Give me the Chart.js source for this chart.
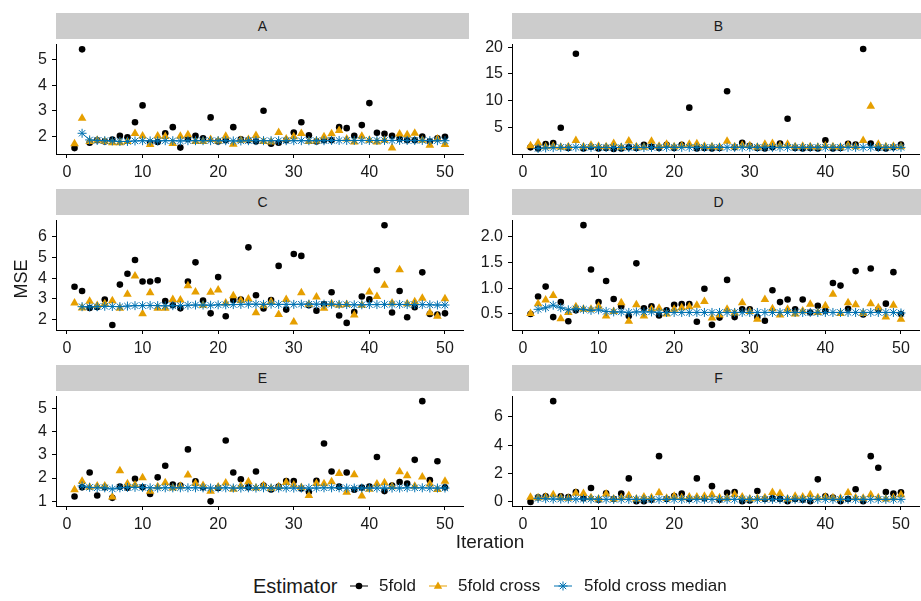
<!DOCTYPE html>
<html>
<head>
<meta charset="utf-8">
<script src="https://cdn.jsdelivr.net/npm/chart.js@4.4.1/dist/chart.umd.min.js"></script>
<style>
    body { margin: 0; width: 921px; height: 601px; overflow: hidden; background: #fff; position: relative;
           font-family: "Liberation Sans", Arial, sans-serif; color: #1a1a1a; }
    canvas { position: absolute; }
    .strip { position: absolute; height: 26px; background: #cccccc; font-size: 14px; line-height: 26px; text-align: center; }
    .title { position: absolute; white-space: nowrap; }
    .key { position: absolute; }
</style>
</head>
<body>
<div id="figure"></div>
<div class="title" style="left:0; top:0; width:42px; height:18px; font-size:18px; line-height:18px; text-align:center;
     transform: translate(0px, 270px) rotate(-90deg);">MSE</div>
<div class="title" style="left:390px; top:530px; width:200px; text-align:center; font-size:19px; line-height:24px;">Iteration</div>

<div class="title" style="left:253px; top:573px; font-size:20px; line-height:26px;">Estimator</div>
<svg class="key" style="left:350px; top:577px;" width="18" height="18">
    <line x1="0" y1="9" x2="18" y2="9" stroke="#000" stroke-width="1"/>
    <circle cx="9" cy="9" r="3.3" fill="#000"/>
</svg>
<div class="title" style="left:379px; top:574px; font-size:17px; line-height:24px;">5fold</div>
<svg class="key" style="left:429px; top:577px;" width="18" height="18">
    <line x1="0" y1="9" x2="18" y2="9" stroke="#E69F00" stroke-width="1"/>
    <polygon points="9,4.5 13.2,11.8 4.8,11.8" fill="#E69F00"/>
</svg>
<div class="title" style="left:458px; top:574px; font-size:17px; line-height:24px;">5fold cross</div>
<svg class="key" style="left:554px; top:577px;" width="18" height="18">
    <line x1="0" y1="9" x2="18" y2="9" stroke="#0072B2" stroke-width="1"/>
    <g stroke="#0072B2" stroke-width="1">
        <line x1="9" y1="4.5" x2="9" y2="13.5"/><line x1="4.5" y1="9" x2="13.5" y2="9"/>
        <line x1="5.8" y1="5.8" x2="12.2" y2="12.2"/><line x1="5.8" y1="12.2" x2="12.2" y2="5.8"/>
    </g>
</svg>
<div class="title" style="left:584px; top:574px; font-size:17px; line-height:24px;">5fold cross median</div>

<script>
const iterations = [1,2,3,4,5,6,7,8,9,10,11,12,13,14,15,16,17,18,19,20,21,22,23,24,25,
                    26,27,28,29,30,31,32,33,34,35,36,37,38,39,40,41,42,43,44,45,46,47,48,49,50];
const xTicks = [0, 10, 20, 30, 40, 50];

// panel A
const foldA = [1.54,5.4,1.75,1.85,1.8,1.87,2.02,1.96,2.55,3.21, 1.75,1.78,2.12,2.36,1.56,1.9,2.02,1.92,2.74,1.8,
               1.85,2.36,1.88,1.85,1.8,3.0,1.71,1.75,1.85,2.15, 2.55,2.04,1.8,1.85,1.85,2.36,2.32,2.02,2.44,3.3,
               2.14,2.1,2.02,1.9,1.85,1.85,1.99,1.8,1.92,1.98];
const crossA = [1.71,2.71,1.8,1.85,1.8,1.75,1.75,1.8,2.11,2.01, 1.68,2.01,1.99,1.72,2.0,2.06,1.8,1.8,1.88,1.82,
                2.0,1.69,1.85,1.88,2.03,1.8,1.78,2.15,1.9,1.98, 2.11,1.8,1.82,1.98,2.1,2.23,1.9,1.78,2.0,1.85,
                1.78,1.85,1.54,2.09,2.06,2.12,1.85,1.65,1.9,1.68];
const medianA = [null,2.12,1.86,1.84,1.83,1.82,1.8,1.8,1.82,1.83, 1.82,1.82,1.83,1.83,1.82,1.83,1.83,1.83,1.83,1.83,
                 1.83,1.82,1.82,1.83,1.83,1.83,1.83,1.83,1.83,1.83, 1.83,1.83,1.83,1.83,1.84,1.84,1.84,1.84,1.84,1.84,
                 1.84,1.84,1.84,1.84,1.84,1.84,1.84,1.83,1.83,1.83];
const yTicksA = [2, 3, 4, 5];

// panel B
const foldB = [1.2,1.0,1.8,1.99,4.9,1.1,18.8,1.0,1.3,1.0, 1.1,0.9,1.0,1.2,1.1,1.7,1.3,1.1,1.7,1.1,
               1.7,8.67,1.0,1.1,1.0,1.1,11.75,1.2,2.05,1.5, 1.1,1.0,1.2,1.93,6.57,1.1,1.0,1.1,1.0,2.53,
               1.0,1.1,1.87,1.75,19.7,1.93,1.1,1.0,1.2,1.75];
const crossB = [1.5,2.0,1.3,1.4,1.2,1.3,2.47,1.3,1.6,1.4, 1.3,1.93,1.2,2.4,1.3,1.2,2.35,1.4,1.8,1.3,
                1.5,1.8,1.87,1.4,1.3,1.2,2.35,1.3,1.6,1.5, 1.2,1.8,1.93,1.5,1.8,1.3,1.4,1.3,1.2,1.5,
                1.3,1.2,1.6,1.3,2.47,8.92,1.8,1.3,1.4,1.3];
const medianB = [null,1.0,1.1,1.15,1.2,1.18,1.22,1.2,1.2,1.2, 1.18,1.18,1.17,1.18,1.18,1.18,1.2,1.2,1.2,1.2,
                 1.2,1.2,1.2,1.2,1.2,1.2,1.2,1.2,1.22,1.22, 1.2,1.2,1.2,1.2,1.2,1.2,1.2,1.2,1.2,1.2,
                 1.2,1.2,1.2,1.2,1.2,1.22,1.2,1.2,1.2,1.2];
const yTicksB = [5, 10, 15, 20];

// panel C
const foldC = [3.59,3.38,2.57,2.61,2.97,1.75,3.69,4.21,4.87,3.84, 3.84,3.9,2.9,2.7,2.55,3.84,4.76,2.92,2.31,4.05,
               2.17,2.95,2.97,5.48,3.18,2.54,2.95,4.59,2.49,5.16, 5.07,2.7,2.44,2.74,3.32,2.21,1.85,2.37,3.12,2.98,
               4.38,6.54,2.35,3.38,2.12,2.6,4.28,2.28,2.25,2.31];
const crossC = [2.81,2.57,2.89,2.69,2.77,2.92,2.55,3.23,4.1,2.29, 3.3,2.55,2.55,2.97,2.95,3.64,3.33,2.7,3.32,3.43,
                2.81,3.15,2.93,3.0,2.34,2.67,2.87,2.26,2.97,1.89, 3.3,2.74,3.09,2.55,2.77,2.7,2.74,2.23,2.7,3.33,
                3.12,3.66,2.81,4.41,2.77,2.87,3.03,2.34,2.17,3.01];
const medianC = [null,2.63,2.62,2.63,2.65,2.64,2.63,2.66,2.68,2.68, 2.69,2.68,2.67,2.68,2.68,2.7,2.71,2.71,2.7,2.72,
                 2.72,2.73,2.74,2.75,2.75,2.74,2.75,2.74,2.74,2.74, 2.75,2.75,2.75,2.75,2.75,2.74,2.73,2.72,2.72,2.73,
                 2.73,2.74,2.74,2.74,2.73,2.73,2.73,2.72,2.71,2.71];
const yTicksC = [2, 3, 4, 5, 6];

// panel D
const foldD = [0.5,0.84,1.03,0.44,0.73,0.36,0.57,2.22,1.36,0.73, 1.14,0.79,0.65,0.46,1.48,0.61,0.65,0.47,0.57,0.68,
               0.69,0.69,0.35,0.99,0.29,0.43,1.16,0.44,0.59,0.59, 0.44,0.37,0.96,0.73,0.78,0.59,0.78,0.53,0.66,0.56,
               1.1,1.05,0.6,1.33,0.49,1.38,0.59,0.7,1.31,0.5];
const crossD = [0.51,0.7,0.77,0.86,0.41,0.53,0.64,0.59,0.59,0.65, 0.46,0.55,0.72,0.36,0.68,0.46,0.59,0.61,0.5,0.59,
                0.62,0.64,0.67,0.74,0.42,0.48,0.59,0.52,0.72,0.55, 0.4,0.78,0.6,0.48,0.59,0.5,0.56,0.69,0.53,0.66,
                0.88,0.51,0.72,0.68,0.51,0.7,0.62,0.44,0.67,0.4];
const medianD = [null,0.59,0.62,0.67,0.62,0.58,0.6,0.59,0.57,0.58, 0.55,0.54,0.54,0.53,0.54,0.54,0.54,0.53,0.53,0.53,
                 0.53,0.53,0.53,0.53,0.53,0.53,0.53,0.53,0.53,0.53, 0.53,0.53,0.53,0.53,0.53,0.53,0.53,0.53,0.53,0.53,
                 0.53,0.53,0.53,0.53,0.53,0.53,0.53,0.53,0.53,0.52];
const yTicksD = [0.5, 1.0, 1.5, 2.0];

// panel E
const foldE = [1.21,1.6,2.24,1.25,1.6,1.15,1.63,1.58,1.97,1.6, 1.32,2.03,2.53,1.72,1.68,3.23,1.86,1.6,1.0,1.57,
               3.61,2.24,1.95,1.61,2.28,1.68,1.51,1.63,1.87,1.87, 1.55,1.41,1.88,3.48,2.28,1.63,2.24,1.5,1.59,1.63,
               2.9,1.44,1.68,1.83,1.76,2.78,5.3,1.91,2.72,1.6];
const crossE = [1.5,1.86,1.6,1.66,1.66,1.19,2.31,1.76,1.7,2.01, 1.43,1.63,1.8,1.57,1.65,2.13,1.77,1.68,1.43,1.62,
                1.79,1.52,1.66,1.84,1.57,1.68,1.55,1.63,1.81,1.7, 1.59,1.25,1.77,1.76,1.84,2.19,1.39,2.14,1.23,1.52,
                1.74,1.8,1.63,2.27,2.1,1.65,2.05,1.74,1.51,1.86];
const medianE = [null,1.66,1.6,1.58,1.58,1.53,1.58,1.6,1.6,1.6, 1.58,1.57,1.58,1.58,1.58,1.58,1.58,1.58,1.57,1.57,
                 1.58,1.57,1.57,1.58,1.57,1.58,1.57,1.57,1.57,1.57, 1.57,1.57,1.57,1.58,1.58,1.58,1.57,1.57,1.57,1.57,
                 1.57,1.57,1.57,1.57,1.58,1.58,1.58,1.57,1.57,1.57];
const yTicksE = [1, 2, 3, 4, 5];

// panel F
const foldF = [0.0,0.32,0.39,7.11,0.39,0.34,0.7,0.25,0.98,0.15, 0.61,0.2,0.59,1.66,0.05,0.05,0.15,3.23,0.2,0.41,
               0.59,0.2,1.66,0.25,1.11,0.15,0.64,0.7,0.05,0.1, 0.77,0.2,0.25,0.2,0.05,0.2,0.15,0.05,1.59,0.39,
               0.3,0.05,0.2,0.89,0.05,3.23,2.41,0.7,0.59,0.68];
const crossF = [0.32,0.3,0.35,0.5,0.3,0.25,0.61,0.59,0.3,0.2, 0.55,0.2,0.3,0.45,0.2,0.35,0.3,0.64,0.25,0.4,
                0.3,0.35,0.35,0.4,0.5,0.3,0.25,0.5,0.35,0.2, 0.25,0.3,0.66,0.59,0.2,0.4,0.35,0.5,0.3,0.35,
                0.3,0.25,0.64,0.3,0.25,0.5,0.3,0.2,0.3,0.5];
const medianF = [null,0.25,0.22,0.2,0.2,0.2,0.2,0.2,0.2,0.18, 0.18,0.18,0.18,0.18,0.18,0.18,0.18,0.18,0.18,0.18,
                 0.18,0.18,0.18,0.18,0.18,0.18,0.18,0.18,0.18,0.18, 0.18,0.18,0.18,0.18,0.18,0.18,0.18,0.18,0.18,0.18,
                 0.18,0.18,0.18,0.18,0.18,0.18,0.18,0.18,0.18,0.18];
const yTicksF = [0, 2, 4, 6];

const BLACK = '#000000';
const ORANGE = '#E69F00';
const BLUE = '#0072B2';

Chart.defaults.font.family = '"Liberation Sans", Arial, sans-serif';

// layout of the facet grid (pixels)
const colLeft = [56, 512];
const rowTop = [39, 215, 391];
const plotW = 413, plotH = 115;
const yAxisW = 42, xAxisH = 32, stripH = 26;

const panels = [
    { name: 'A', fold: foldA, cross: crossA, median: medianA, yTicks: yTicksA, yMin: 1.31, yMax: 5.59, col: 0, row: 0, digits: 0 },
    { name: 'B', fold: foldB, cross: crossB, median: medianB, yTicks: yTicksB, yMin: -0.05, yMax: 20.54, col: 1, row: 0, digits: 0 },
    { name: 'C', fold: foldC, cross: crossC, median: medianC, yTicks: yTicksC, yMin: 1.51, yMax: 6.77, col: 0, row: 1, digits: 0 },
    { name: 'D', fold: foldD, cross: crossD, median: medianD, yTicks: yTicksD, yMin: 0.19, yMax: 2.31, col: 1, row: 1, digits: 1 },
    { name: 'E', fold: foldE, cross: crossE, median: medianE, yTicks: yTicksE, yMin: 0.8, yMax: 5.5, col: 0, row: 2, digits: 0 },
    { name: 'F', fold: foldF, cross: crossF, median: medianF, yTicks: yTicksF, yMin: -0.29, yMax: 7.44, col: 1, row: 2, digits: 0 }
];

function toPoints(values) {
    return iterations.map((x, i) => ({ x: x, y: values[i] }));
}

const figure = document.getElementById('figure');

panels.forEach(function (p) {
    const left = colLeft[p.col];
    const top = rowTop[p.row];

    const strip = document.createElement('div');
    strip.className = 'strip';
    strip.style.left = left + 'px';
    strip.style.top = (top - stripH) + 'px';
    strip.style.width = plotW + 'px';
    strip.textContent = p.name;
    figure.appendChild(strip);

    const canvas = document.createElement('canvas');
    canvas.width = plotW + yAxisW;
    canvas.height = plotH + xAxisH;
    canvas.style.left = (left - yAxisW) + 'px';
    canvas.style.top = top + 'px';
    figure.appendChild(canvas);

    const axisLook = {
        border: { display: true, color: '#000', width: 1 },
        grid: { display: true, drawOnChartArea: false, drawTicks: true, tickLength: 4, color: '#000', lineWidth: 1 }
    };

    new Chart(canvas, {
        type: 'line',
        data: {
            datasets: [
                {
                    label: '5fold cross median',
                    data: toPoints(p.median),
                    showLine: true,
                    borderColor: BLUE,
                    borderWidth: 1,
                    pointStyle: 'star',
                    pointRadius: 4.5,
                    pointBorderColor: BLUE,
                    pointBorderWidth: 1,
                    order: 0,
                    clip: false
                },
                {
                    label: '5fold cross',
                    data: toPoints(p.cross),
                    showLine: false,
                    pointStyle: 'triangle',
                    pointRadius: 5,
                    pointBackgroundColor: ORANGE,
                    pointBorderWidth: 0,
                    order: 1,
                    clip: false
                },
                {
                    label: '5fold',
                    data: toPoints(p.fold),
                    showLine: false,
                    pointStyle: 'circle',
                    pointRadius: 3.3,
                    pointBackgroundColor: BLACK,
                    pointBorderWidth: 0,
                    order: 2,
                    clip: false
                }
            ]
        },
        options: {
            responsive: false,
            animation: false,
            events: [],
            layout: { padding: 0 },
            plugins: { legend: { display: false }, tooltip: { enabled: false } },
            scales: {
                x: Object.assign({
                    type: 'linear',
                    min: -1.45,
                    max: 52.45,
                    afterBuildTicks: function (scale) { scale.ticks = xTicks.map(v => ({ value: v })); },
                    afterFit: function (scale) { scale.height = xAxisH; scale.paddingLeft = 0; scale.paddingRight = 0; },
                    ticks: { color: '#1a1a1a', font: { size: 16 }, padding: 5, maxRotation: 0, autoSkip: false }
                }, axisLook),
                y: Object.assign({
                    type: 'linear',
                    min: p.yMin,
                    max: p.yMax,
                    afterBuildTicks: function (scale) { scale.ticks = p.yTicks.map(v => ({ value: v })); },
                    afterFit: function (scale) { scale.width = yAxisW; scale.paddingTop = 0; scale.paddingBottom = 0; },
                    ticks: {
                        color: '#1a1a1a', font: { size: 16 }, padding: 5, autoSkip: false,
                        callback: function (value) { return value.toFixed(p.digits); }
                    }
                }, axisLook)
            }
        }
    });
});
</script>
</body>
</html>
